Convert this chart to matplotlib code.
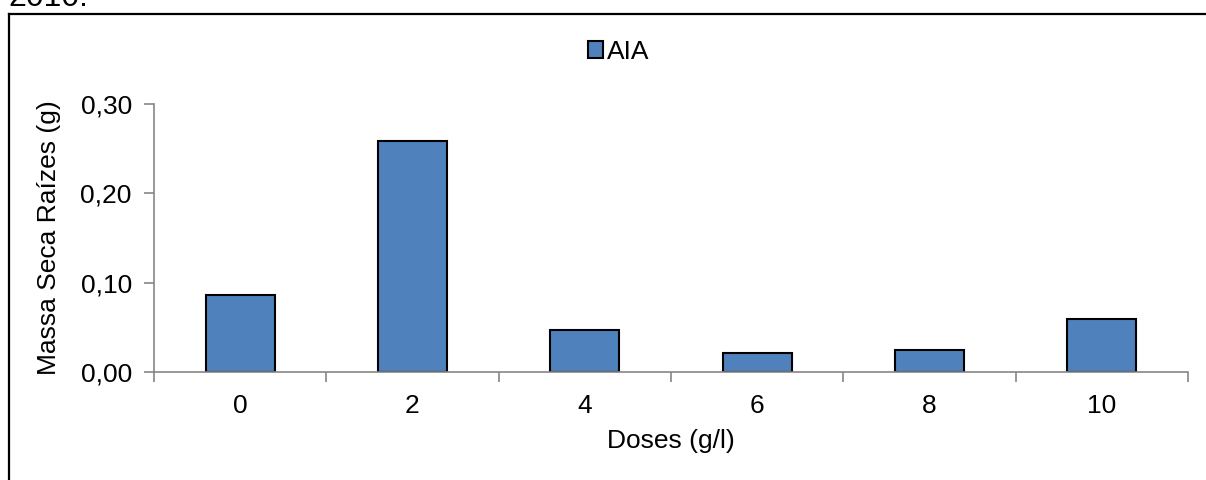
import matplotlib.pyplot as plt
from matplotlib.lines import Line2D
from matplotlib.ticker import FixedLocator, FuncFormatter
import numpy as np

plt.rcParams['font.family'] = ['Liberation Sans', 'DejaVu Sans']

doses = ["0", "2", "4", "6", "8", "10"]
massa_seca = [0.086, 0.259, 0.047, 0.021, 0.025, 0.059]
serie = "AIA"

bar_color = "#4F81BD"
axis_color = "#868686"
fs = 19

fig = plt.figure(figsize=(12.06, 4.8), dpi=100)
ax = fig.add_axes([154 / 1206, 1 - 372 / 480, (1188 - 154) / 1206, (372 - 104) / 480])

x = np.arange(len(doses))
ax.bar(x, massa_seca, width=0.4, color=bar_color, edgecolor="black", linewidth=1.5,
       label=serie, zorder=3)

ax.set_xlim(-0.5, len(doses) - 0.5)
ax.set_ylim(0, 0.30)

ax.set_xticks(x)
ax.set_xticklabels(doses)
ax.xaxis.set_minor_locator(FixedLocator(np.arange(-0.5, len(doses), 1.0)))
ax.tick_params(axis="x", which="major", length=0, pad=16, labelsize=fs)
ax.tick_params(axis="x", which="minor", length=7, width=1.2, color=axis_color, direction="out")

ax.set_yticks([0, 0.1, 0.2, 0.3])
ax.yaxis.set_major_formatter(FuncFormatter(lambda v, p: f"{v:.2f}".replace(".", ",")))
ax.tick_params(axis="y", length=7, width=1.2, color=axis_color, pad=9, labelsize=fs)

for s in ["top", "right"]:
    ax.spines[s].set_visible(False)
for s in ["left", "bottom"]:
    ax.spines[s].set_color(axis_color)
    ax.spines[s].set_linewidth(1.2)
ax.spines["bottom"].set_zorder(4)

ax.set_ylabel("Massa Seca Raízes (g)", fontsize=fs, labelpad=14)
ax.set_xlabel("Doses (g/l)", fontsize=fs, labelpad=8)

fig.legend(loc="center", bbox_to_anchor=(0.513, 1 - 52 / 480), frameon=False,
           fontsize=fs, handlelength=0.6, handleheight=0.6, handletextpad=0.15)

# moldura do gráfico (cortada à direita e embaixo)
fig.add_artist(Line2D([8.5 / 1206, 1.0], [1 - 14 / 480] * 2, color="black", lw=1.6))
fig.add_artist(Line2D([8.5 / 1206] * 2, [0, 1 - 14 / 480], color="black", lw=1.6))

fig.text(8 / 1206, 1 - 6 / 480, "2010.", fontsize=23, va="baseline", ha="left")

fig.savefig("out.png", dpi=100)
